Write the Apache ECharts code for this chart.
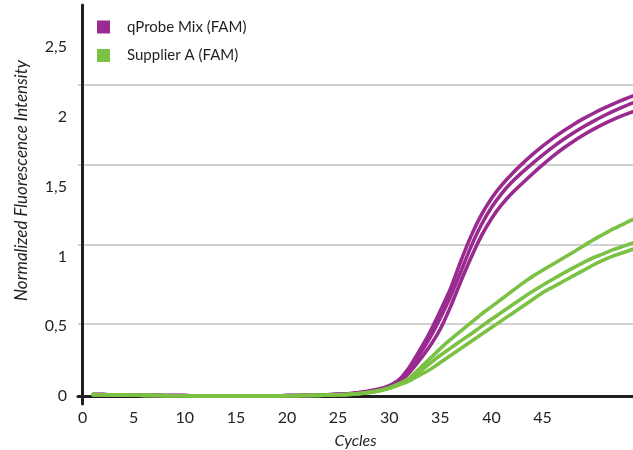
<!DOCTYPE html>
<html>
<head>
<meta charset="utf-8">
<script src="https://cdn.jsdelivr.net/npm/echarts@6/dist/echarts.min.js"></script>
<style>
  html, body { margin: 0; padding: 0; background: #fff; }
  #chart { width: 633px; height: 450px; }
</style>
</head>
<body>
<div id="chart"></div>
<script>
const cycles = Array.from({ length: 54 }, (_, i) => i + 1)

const xTicks = [0, 5, 10, 15, 20, 25, 30, 35, 40, 45]
const yTicks = [0, 0.5, 1, 1.5, 2, 2.5]

// baseline cycles 1..25
const baseP = [0.011, 0.01, 0.009, 0.008, 0.007, 0.006, 0.005, 0.004, 0.003, 0.003, 0.002, 0.002, 0.001, 0.001, 0.001, 0.001, 0.001, 0.001, 0.002, 0.003, 0.004, 0.005, 0.007, 0.009, 0.012]
const baseG = [0.01, 0.009, 0.008, 0.007, 0.006, 0.005, 0.004, 0.003, 0.002, 0.002, 0.001, 0.001, 0, 0, 0, 0, 0, 0, 0.001, 0.002, 0.003, 0.004, 0.005, 0.007, 0.009]

const qProbe1 = baseP.concat([0.016, 0.025, 0.036, 0.05, 0.075, 0.12, 0.21, 0.33, 0.46, 0.61, 0.77, 0.965, 1.145, 1.295, 1.415, 1.51, 1.59, 1.662, 1.728, 1.789, 1.845, 1.896, 1.943, 1.986, 2.025, 2.061, 2.094, 2.125, 2.154])
const qProbe2 = baseP.concat([0.015, 0.023, 0.033, 0.046, 0.07, 0.11, 0.19, 0.30, 0.42, 0.56, 0.715, 0.89, 1.07, 1.225, 1.35, 1.45, 1.532, 1.602, 1.665, 1.725, 1.782, 1.835, 1.883, 1.928, 1.969, 2.007, 2.042, 2.074, 2.103])
const qProbe3 = baseP.concat([0.014, 0.021, 0.03, 0.042, 0.065, 0.10, 0.17, 0.26, 0.36, 0.48, 0.64, 0.82, 0.99, 1.145, 1.27, 1.37, 1.452, 1.522, 1.59, 1.655, 1.716, 1.772, 1.823, 1.869, 1.911, 1.949, 1.983, 2.013, 2.04])

const supplier1 = baseG.concat([0.012, 0.018, 0.027, 0.04, 0.06, 0.09, 0.13, 0.20, 0.27, 0.34, 0.405, 0.465, 0.525, 0.585, 0.64, 0.695, 0.75, 0.805, 0.855, 0.90, 0.944, 0.987, 1.03, 1.075, 1.12, 1.16, 1.20, 1.235, 1.27])
const supplier2 = baseG.concat([0.011, 0.017, 0.025, 0.038, 0.058, 0.085, 0.12, 0.175, 0.235, 0.292, 0.343, 0.395, 0.445, 0.497, 0.55, 0.60, 0.65, 0.70, 0.748, 0.793, 0.836, 0.878, 0.918, 0.956, 0.992, 1.02, 1.05, 1.075, 1.10])
const supplier3 = baseG.concat([0.011, 0.016, 0.024, 0.036, 0.055, 0.08, 0.11, 0.15, 0.19, 0.24, 0.29, 0.34, 0.39, 0.44, 0.49, 0.54, 0.59, 0.64, 0.69, 0.74, 0.78, 0.82, 0.86, 0.90, 0.94, 0.975, 1.005, 1.03, 1.055])

const PURPLE = '#992a8f'
const GREEN = '#7bc143'
const INK = '#231f20'

function curve(name, values, color) {
  return {
    name,
    type: 'line',
    smooth: 0.2,
    symbol: 'none',
    data: cycles.map((c, i) => [c, values[i]]),
    lineStyle: { color, width: 3.6, cap: 'round', join: 'round' },
    itemStyle: { color },
  }
}

const chart = echarts.init(document.getElementById('chart'))
chart.setOption({
  animation: false,
  grid: { left: 78, right: 0, top: 5, bottom: 46, outerBoundsMode: 'none' },
  legend: {
    orient: 'vertical',
    left: 97,
    top: 19.5,
    padding: 0,
    icon: 'rect',
    itemWidth: 13,
    itemHeight: 13,
    itemGap: 13.5,
    textStyle: { fontFamily: 'Lato', fontSize: 15, color: INK, padding: [0, 0, 0, 12] },
    data: ['qProbe Mix (FAM)', 'Supplier A (FAM)'],
  },
  xAxis: {
    type: 'value',
    min: -0.45,
    max: 53.85,
    name: 'Cycles',
    nameLocation: 'middle',
    nameGap: 29,
    nameTextStyle: { fontFamily: 'Lato', fontStyle: 'italic', fontSize: 16, color: INK },
    axisLine: { lineStyle: { color: INK, width: 3 } },
    axisTick: { show: false },
    splitLine: { show: false },
    axisLabel: { customValues: xTicks, fontFamily: 'Lato', fontSize: 16, color: INK, margin: 6 },
  },
  yAxis: [
    {
      type: 'value',
      min: -0.057,
      max: 2.8,
      name: 'Normalized Fluorescence Intensity',
      nameLocation: 'middle',
      nameGap: 48,
      nameTextStyle: { fontFamily: 'Lato', fontStyle: 'italic', fontSize: 17, color: INK, padding: [0, 0, 0, 48] },
      axisLine: { show: true, lineStyle: { color: INK, width: 3 } },
      axisTick: { show: false },
      splitLine: { show: false },
      axisLabel: {
        customValues: yTicks,
        fontFamily: 'Lato',
        fontSize: 16,
        color: INK,
        margin: 11,
        formatter: (v) => String(v).replace('.', ','),
      },
    },
    {
      // light grid lines, spaced independently from the labels as in the original
      type: 'value',
      min: 0,
      max: 5,
      interval: 1,
      position: 'left',
      axisLine: { show: false },
      axisTick: { show: false },
      axisLabel: { show: false },
      splitLine: { show: true, showMinLine: false, showMaxLine: false, lineStyle: { color: '#d2d2d2', width: 2 } },
    },
  ],
  series: [
    curve('qProbe Mix (FAM)', qProbe1, PURPLE),
    curve('qProbe Mix (FAM)', qProbe2, PURPLE),
    curve('qProbe Mix (FAM)', qProbe3, PURPLE),
    curve('Supplier A (FAM)', supplier1, GREEN),
    curve('Supplier A (FAM)', supplier2, GREEN),
    curve('Supplier A (FAM)', supplier3, GREEN),
  ],
})
</script>
</body>
</html>
